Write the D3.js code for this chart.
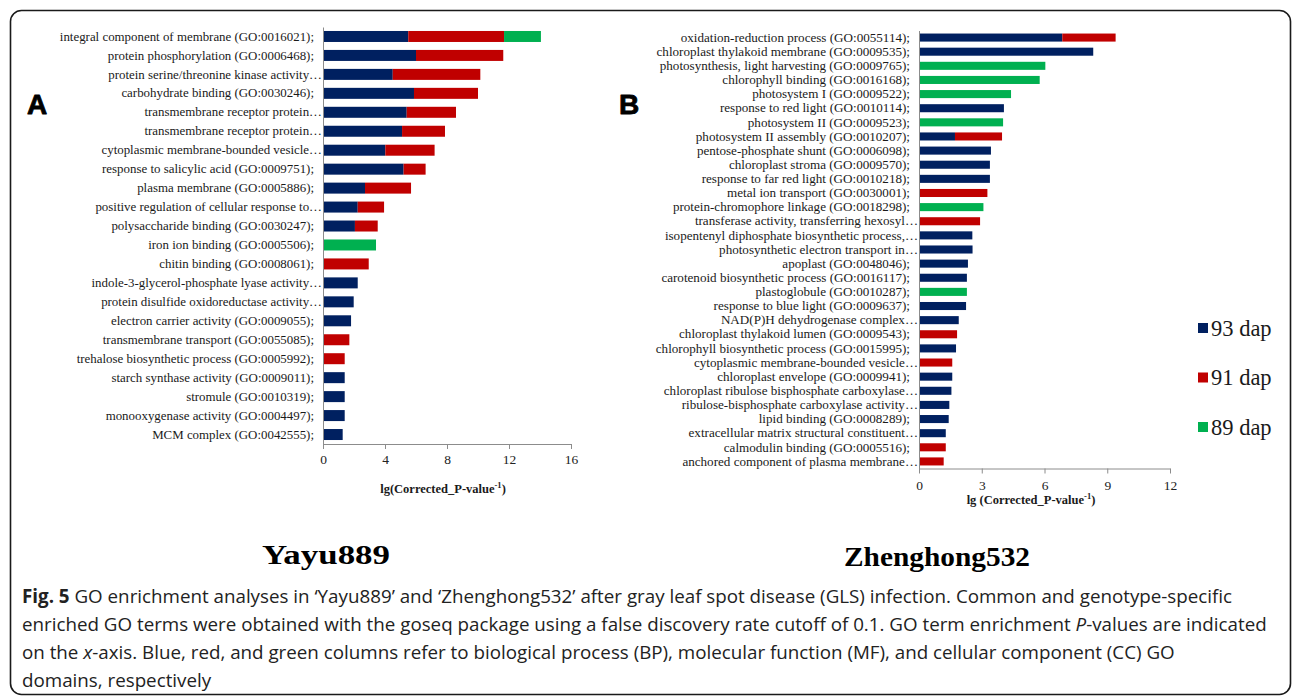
<!DOCTYPE html>
<html>
<head>
<meta charset="utf-8">
<script src="https://cdn.jsdelivr.net/npm/d3@7/dist/d3.min.js"></script>
<style>
  html, body { margin: 0; padding: 0; background: #ffffff; }
  svg { display: block; }
</style>
</head>
<body>
<svg id="fig" width="1292" height="697"></svg>
<script>
// ---- Panel A: Yayu889 ----
const categoriesA = [
  "integral component of membrane (GO:0016021);",
  "protein phosphorylation (GO:0006468);",
  "protein serine/threonine kinase activity…",
  "carbohydrate binding (GO:0030246);",
  "transmembrane receptor protein…",
  "transmembrane receptor protein…",
  "cytoplasmic membrane-bounded vesicle…",
  "response to salicylic acid (GO:0009751);",
  "plasma membrane (GO:0005886);",
  "positive regulation of cellular response to…",
  "polysaccharide binding (GO:0030247);",
  "iron ion binding (GO:0005506);",
  "chitin binding (GO:0008061);",
  "indole-3-glycerol-phosphate lyase activity…",
  "protein disulfide oxidoreductase activity…",
  "electron carrier activity (GO:0009055);",
  "transmembrane transport (GO:0055085);",
  "trehalose biosynthetic process (GO:0005992);",
  "starch synthase activity (GO:0009011);",
  "stromule (GO:0010319);",
  "monooxygenase activity (GO:0004497);",
  "MCM complex (GO:0042555);"
];
const dap93A = [5.5, 6.0, 4.5, 5.87, 5.4, 5.1, 4.02, 5.2, 2.71, 2.24, 2.06, 0, 0, 2.24, 1.98, 1.81, 0, 0, 1.4, 1.4, 1.4, 1.27];
const dap91A = [6.18, 5.63, 5.65, 4.13, 3.18, 2.77, 3.18, 1.42, 2.97, 1.7, 1.47, 0, 2.95, 0, 0, 0, 1.7, 1.4, 0, 0, 0, 0];
const dap89A = [2.38, 0, 0, 0, 0, 0, 0, 0, 0, 0, 0, 3.42, 0, 0, 0, 0, 0, 0, 0, 0, 0, 0];
const ticksA = [0, 4, 8, 12, 16];

// ---- Panel B: Zhenghong532 ----
const categoriesB = [
  "oxidation-reduction process (GO:0055114);",
  "chloroplast thylakoid membrane (GO:0009535);",
  "photosynthesis, light harvesting (GO:0009765);",
  "chlorophyll binding (GO:0016168);",
  "photosystem I (GO:0009522);",
  "response to red light (GO:0010114);",
  "photosystem II (GO:0009523);",
  "photosystem II assembly (GO:0010207);",
  "pentose-phosphate shunt (GO:0006098);",
  "chloroplast stroma (GO:0009570);",
  "response to far red light (GO:0010218);",
  "metal ion transport (GO:0030001);",
  "protein-chromophore linkage (GO:0018298);",
  "transferase activity, transferring hexosyl…",
  "isopentenyl diphosphate biosynthetic process,…",
  "photosynthetic electron transport in…",
  "apoplast (GO:0048046);",
  "carotenoid biosynthetic process (GO:0016117);",
  "plastoglobule (GO:0010287);",
  "response to blue light (GO:0009637);",
  "NAD(P)H dehydrogenase complex…",
  "chloroplast thylakoid lumen (GO:0009543);",
  "chlorophyll biosynthetic process (GO:0015995);",
  "cytoplasmic membrane-bounded vesicle…",
  "chloroplast envelope (GO:0009941);",
  "chloroplast ribulose bisphosphate carboxylase…",
  "ribulose-bisphosphate carboxylase activity…",
  "lipid binding (GO:0008289);",
  "extracellular matrix structural constituent…",
  "calmodulin binding (GO:0005516);",
  "anchored component of plasma membrane…"
];
const dap93B = [6.85, 8.33, 0, 0, 0, 4.06, 0, 1.72, 3.44, 3.39, 3.39, 0, 0, 0, 2.55, 2.56, 2.34, 2.29, 0, 2.25, 1.9, 0, 1.77, 0, 1.59, 1.55, 1.45, 1.42, 1.28, 0, 0];
const dap91B = [2.55, 0, 0, 0, 0, 0, 0, 2.25, 0, 0, 0, 3.27, 0, 2.92, 0, 0, 0, 0, 0, 0, 0, 1.82, 0, 1.59, 0, 0, 0, 0, 0, 1.28, 1.18];
const dap89B = [0, 0, 6.04, 5.77, 4.4, 0, 4.02, 0, 0, 0, 0, 0, 3.08, 0, 0, 0, 0, 0, 2.29, 0, 0, 0, 0, 0, 0, 0, 0, 0, 0, 0, 0];
const ticksB = [0, 3, 6, 9, 12];

// ---- Series, legend and titles ----
const seriesKeys = ["93 dap", "91 dap", "89 dap"];
const seriesColors = ["#002060", "#C00000", "#00B050"];
const axisTitleA = "lg(Corrected_P-value";
const axisTitleB = "lg (Corrected_P-value";
const genotypeA = "Yayu889";
const genotypeB = "Zhenghong532";

const SERIF = "'Liberation Serif', 'Times New Roman', serif";
const svg = d3.select("#fig");

// Rounded frame around the whole figure
svg.append("rect")
  .attr("x", 10.5).attr("y", 10.5)
  .attr("width", 1280).attr("height", 684)
  .attr("rx", 11).attr("ry", 11)
  .attr("fill", "none").attr("stroke", "#1a1a1a").attr("stroke-width", 1.6);

const colorScale = d3.scaleOrdinal().domain(seriesKeys).range(seriesColors);

function drawPanel(opt) {
  const rows = opt.categories.map((c, i) => ({
    idx: i, cat: c,
    "93 dap": opt.s93[i], "91 dap": opt.s91[i], "89 dap": opt.s89[i]
  }));
  const keys = rows.map(r => r.idx);

  const x = d3.scaleLinear().domain(opt.domain).range(opt.xRange);
  const y = d3.scaleBand().domain(keys).range(opt.yRange)
    .paddingInner(opt.padInner).paddingOuter(opt.padInner / 2);

  const g = svg.append("g");
  const stacked = d3.stack().keys(seriesKeys)(rows);

  g.selectAll("g.layer").data(stacked).join("g")
    .attr("class", "layer")
    .attr("fill", d => colorScale(d.key))
    .selectAll("rect").data(d => d.filter(s => s[1] - s[0] > 0)).join("rect")
    .attr("x", d => x(d[0]))
    .attr("y", d => y(d.data.idx))
    .attr("width", d => x(d[1]) - x(d[0]))
    .attr("height", y.bandwidth());

  // x axis
  const xAxis = g.append("g")
    .attr("transform", `translate(0,${opt.yRange[1]})`)
    .call(d3.axisBottom(x).tickValues(opt.ticks).tickSize(5).tickSizeOuter(0).tickPadding(opt.tickPad));
  xAxis.select(".domain").attr("stroke", "#8c8c8c");
  xAxis.selectAll(".tick line").attr("stroke", "#8c8c8c");
  xAxis.selectAll(".tick text")
    .attr("font-family", SERIF)
    .attr("font-size", 13.5).attr("fill", "#222");

  // y axis with category labels
  const yAxis = g.append("g")
    .attr("transform", `translate(${opt.xRange[0]},0)`)
    .call(d3.axisLeft(y).tickSize(0).tickSizeOuter(0).tickFormat(i => opt.categories[i]));
  yAxis.select(".domain").attr("stroke", "#8c8c8c");
  yAxis.selectAll(".tick text")
    .attr("font-family", SERIF)
    .attr("font-size", opt.labelSize).attr("fill", "#1a1a1a")
    .attr("x", i => opt.categories[i].endsWith("…") ? -1 : -9);

  // axis title with superscript -1
  const t = g.append("text")
    .attr("x", opt.titleX).attr("y", opt.titleY)
    .attr("text-anchor", "middle")
    .attr("font-family", SERIF)
    .attr("font-weight", "bold").attr("font-size", 12.5).attr("fill", "#1a1a1a");
  t.append("tspan").text(opt.title);
  t.append("tspan").attr("dy", -5).attr("font-size", 8.5).text("-1");
  t.append("tspan").attr("dy", 5).text(")");
}

drawPanel({
  categories: categoriesA, s93: dap93A, s91: dap91A, s89: dap89A,
  domain: [0, 16], ticks: ticksA, xRange: [323, 571], yRange: [27, 444],
  padInner: 0.42, labelSize: 12.9, tickPad: 5,
  title: axisTitleA, titleX: 443, titleY: 493
});

drawPanel({
  categories: categoriesB, s93: dap93B, s91: dap91B, s89: dap89B,
  domain: [0, 12], ticks: ticksB, xRange: [919, 1170], yRange: [30.5, 468.5],
  padInner: 0.43, labelSize: 13.1, tickPad: 7,
  title: axisTitleB, titleX: 1031, titleY: 504
});

// Panel letters
[["A", 27], ["B", 619]].forEach(([letter, lx]) => {
  svg.append("text").attr("x", lx).attr("y", 114)
    .attr("font-family", "'Liberation Sans', Arial, sans-serif")
    .attr("font-weight", 900).attr("font-size", 28)
    .attr("fill", "#000").attr("stroke", "#000").attr("stroke-width", 0.8)
    .attr("stroke-linejoin", "round")
    .text(letter);
});

// Legend
const legend = svg.append("g").attr("transform", "translate(1198,0)");
const legendY = d3.scalePoint().domain(seriesKeys).range([328, 427]);
legend.selectAll("rect").data(seriesKeys).join("rect")
  .attr("x", 0).attr("y", d => legendY(d) - 5)
  .attr("width", 10).attr("height", 10)
  .attr("fill", d => colorScale(d));
legend.selectAll("text").data(seriesKeys).join("text")
  .attr("x", 13).attr("y", d => legendY(d) + 7.5)
  .attr("font-family", SERIF)
  .attr("font-size", 22.5).attr("fill", "#1a1a1a")
  .text(d => d);

// Genotype names under each panel
svg.append("text").attr("x", 326).attr("y", 564)
  .attr("text-anchor", "middle")
  .attr("font-family", SERIF)
  .attr("font-weight", "bold").attr("font-size", 28)
  .attr("textLength", 128).attr("lengthAdjust", "spacingAndGlyphs")
  .text(genotypeA);
svg.append("text").attr("x", 937).attr("y", 566)
  .attr("text-anchor", "middle")
  .attr("font-family", SERIF)
  .attr("font-weight", "bold").attr("font-size", 28)
  .attr("textLength", 186).attr("lengthAdjust", "spacingAndGlyphs")
  .text(genotypeB);

// Figure caption: one font size, chosen so the two full lines fit the frame
const captionLines = [
  [
    { t: "Fig. 5", b: true },
    { t: " GO enrichment analyses in ‘Yayu889’ and ‘Zhenghong532’ after gray leaf spot disease (GLS) infection. Common and genotype-specific" }
  ],
  [
    { t: "enriched GO terms were obtained with the goseq package using a false discovery rate cutoff of 0.1. GO term enrichment " },
    { t: "P", i: true },
    { t: "-values are indicated" }
  ],
  [
    { t: "on the " },
    { t: "x", i: true },
    { t: "-axis. Blue, red, and green columns refer to biological process (BP), molecular function (MF), and cellular component (CC) GO" }
  ],
  [
    { t: "domains, respectively" }
  ]
];
const capTargets = [1243, 1246];
const capTop = 603, capLead = 28;
const cap = svg.append("g")
  .attr("font-family", "'Open Sans', sans-serif")
  .attr("font-size", 19).attr("fill", "#222");
const capTexts = captionLines.map((parts, k) => {
  const txt = cap.append("text").attr("x", 22).attr("y", capTop + k * capLead);
  parts.forEach(p => {
    txt.append("tspan")
      .attr("font-weight", p.b ? "bold" : null)
      .attr("font-style", p.i ? "italic" : null)
      .text(p.t);
  });
  return txt;
});
const capScale = d3.min(capTargets, (w, k) => w / capTexts[k].node().getComputedTextLength());
cap.attr("font-size", 19 * capScale);
</script>
</body>
</html>
